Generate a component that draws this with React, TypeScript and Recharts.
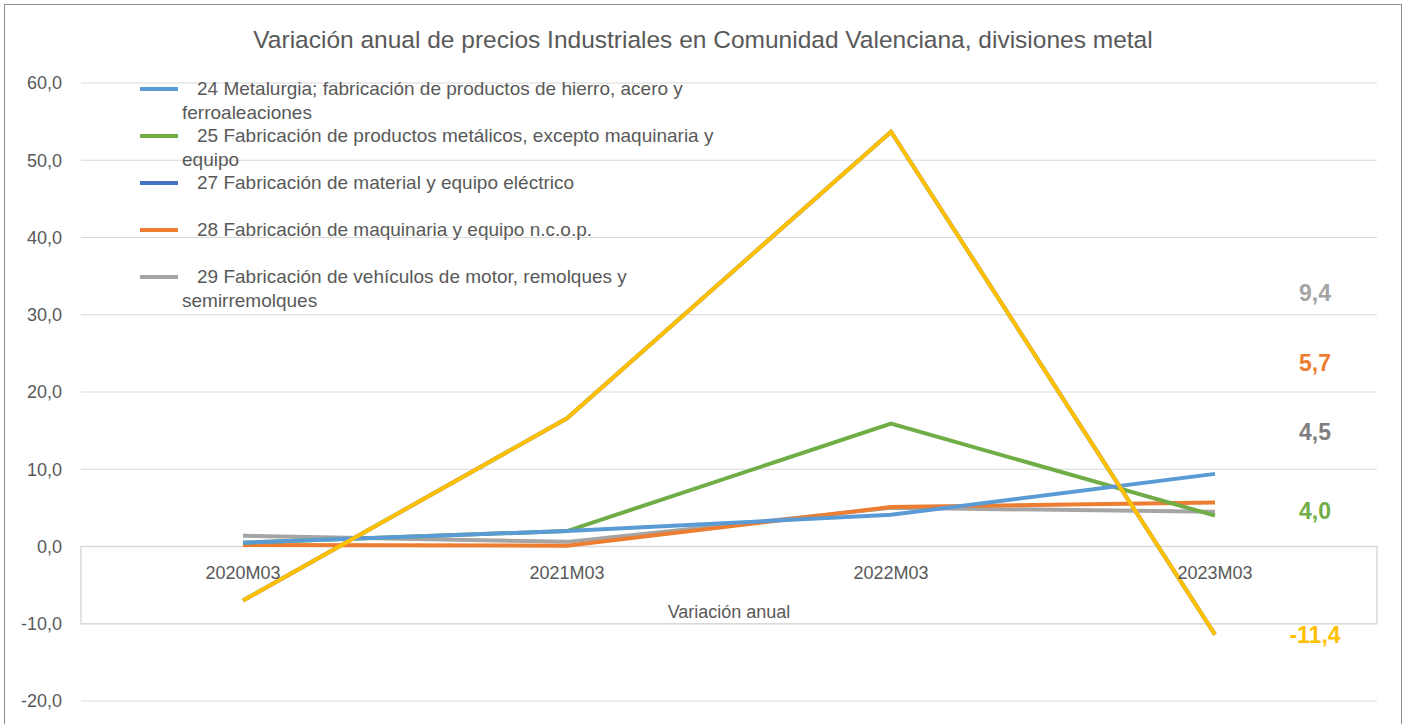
import React from "react";
import {
  LineChart, Line, YAxis, XAxis, CartesianGrid, ReferenceArea, ReferenceDot,
} from "recharts";

const periods = ["2020M03", "2021M03", "2022M03", "2023M03"];

const metalurgia = [0.5, 2.0, 4.1, 9.4];
const productosMetalicos = [0.5, 2.0, 15.9, 4.0];
const otroMaterial = [-7.0, 16.6, 53.7, -11.4];
const materialElectrico = [-7.0, 16.6, 53.7, -11.4];
const maquinaria = [0.2, 0.1, 5.1, 5.7];
const vehiculos = [1.4, 0.6, 5.0, 4.5];

const yTicks = [-20, -10, 0, 10, 20, 30, 40, 50, 60];

const legendItems = [
  { name: "24 Metalurgia; fabricación de productos de hierro, acero y\nferroaleaciones", color: "#5B9BD5" },
  { name: "25 Fabricación de productos metálicos, excepto maquinaria y\nequipo", color: "#70AD47" },
  { name: "27 Fabricación de material y equipo eléctrico", color: "#4472C4" },
  { name: "28 Fabricación de maquinaria y equipo n.c.o.p.", color: "#ED7D31" },
  { name: "29 Fabricación de vehículos de motor, remolques y\nsemirremolques", color: "#A5A5A5" },
];

const data = periods.map((p, i) => ({
  period: p,
  m24: metalurgia[i],
  m25: productosMetalicos[i],
  m27: materialElectrico[i],
  m28: maquinaria[i],
  m29: vehiculos[i],
  otro: otroMaterial[i],
}));

const FONT = "'Liberation Sans', Arial, sans-serif";
const TEXT = "#595959";
const fmt = (v: number) => v.toFixed(1).replace(".", ",");

// labels for the last point, moved aside like in the original sheet
const endLabel = (color: string, dy: number) => (props: any) => {
  const { x, y, index, value } = props;
  if (index !== periods.length - 1) return null;
  return (
    <text x={x + 100} y={y + dy} textAnchor="middle" dominantBaseline="central"
      fill={color} fontSize={23} fontWeight="bold" fontFamily={FONT}>
      {fmt(value)}
    </text>
  );
};

const LegendBox = () => (
  <div style={{
    position: "absolute", left: 135, top: 72, width: 700,
    fontFamily: FONT, fontSize: 19, color: TEXT, pointerEvents: "none",
  }}>
    {legendItems.map((it) => (
      <div key={it.name} style={{ display: "flex", height: 47, lineHeight: "23.5px" }}>
        <div style={{ width: 38, height: 4, background: it.color, marginTop: 10, flexShrink: 0 }} />
        <div style={{ marginLeft: 4, whiteSpace: "pre-line", textIndent: 15 }}>{it.name}</div>
      </div>
    ))}
  </div>
);

export default function App() {
  return (
    <div style={{
      position: "absolute", left: 4, top: 4, width: 1398, height: 738,
      border: "1px solid #8C8C8C", boxSizing: "border-box", background: "#fff",
    }}>
      <div style={{
        position: "absolute", top: 22, left: 0, width: "100%", textAlign: "center",
        fontFamily: FONT, fontSize: 24.5, lineHeight: "26px", color: TEXT,
      }}>
        Variación anual de precios Industriales en Comunidad Valenciana, divisiones metal
      </div>
      <LineChart width={1396} height={736} data={data}
        margin={{ top: 78, right: 24, bottom: 40, left: 0 }}>
        <CartesianGrid vertical={false} stroke="#D9D9D9" />
        <XAxis dataKey="period" scale="band" hide />
        <YAxis width={76} domain={[-20, 60]} ticks={yTicks} axisLine={false} tickLine={false}
          tickMargin={13} tickFormatter={fmt}
          tick={{ fill: TEXT, fontSize: 18, fontFamily: FONT }} />
        <ReferenceArea y1={-10} y2={0} fill="#fff" fillOpacity={1} stroke="#D9D9D9" strokeWidth={1.5}
          label={{ value: "Variación anual", position: "insideBottom", offset: 6, fill: TEXT, fontSize: 18, fontFamily: FONT }} />
        {periods.map((p) => (
          <ReferenceDot key={p} x={p} y={0} r={0} stroke="none" fill="none"
            label={{ value: p, position: "bottom", offset: 20, fill: TEXT, fontSize: 18, fontFamily: FONT }} />
        ))}
        <Line dataKey="m27" name="27" stroke="#4472C4" strokeWidth={4} dot={false}
          isAnimationActive={false} legendType="none" />
        <Line dataKey="m29" name="29" stroke="#A5A5A5" strokeWidth={4} dot={false}
          isAnimationActive={false} label={endLabel("#7F7F7F", -80)} />
        <Line dataKey="m28" name="28" stroke="#ED7D31" strokeWidth={4} dot={false}
          isAnimationActive={false} label={endLabel("#ED7D31", -139)} />
        <Line dataKey="m25" name="25" stroke="#70AD47" strokeWidth={4} dot={false}
          isAnimationActive={false} label={endLabel("#70AD47", -5)} />
        <Line dataKey="m24" name="24" stroke="#5B9BD5" strokeWidth={4} dot={false}
          isAnimationActive={false} label={endLabel("#A5A5A5", -181)} />
        <Line dataKey="otro" name="otro" stroke="#FFC000" strokeWidth={4} dot={false}
          isAnimationActive={false} legendType="none" label={endLabel("#FFC000", 0)} />
      </LineChart>
      <LegendBox />
    </div>
  );
}
